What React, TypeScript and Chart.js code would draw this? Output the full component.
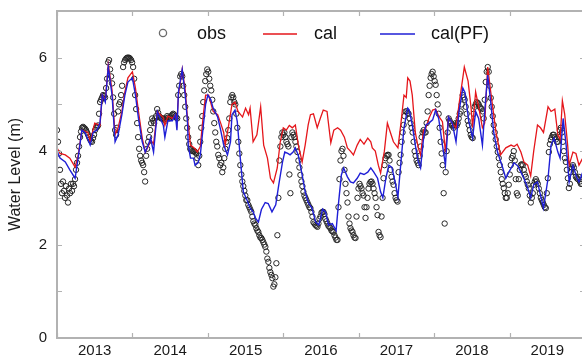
import React, { useEffect, useRef } from 'react';
import { Chart, registerables } from 'chart.js';

Chart.register(...registerables);

const FONT = '"Liberation Sans", Arial, sans-serif';

const yearLabels = ['2013', '2014', '2015', '2016', '2017', '2018', '2019'];
const yearBoundaries = [2013, 2014, 2015, 2016, 2017, 2018, 2019, 2020];
const yLabelTicks = [0, 2, 4, 6];
const yTickMarks = [1, 2, 3, 4, 5, 6];
const seriesNames = ['obs', 'cal', 'cal(PF)'];

// observed water level, sampled every ~4.85 days starting 2013-01-01
const obsStartYear = 2013.0;
const obsStepYears = 0.01328;
const obsValues = [
  4.45, 4.2, 3.95, 3.6, 3.3, 3.1, 3.35, 3.15, 3.0, 3.25,
  3.05, 2.9, 3.2, 3.1, 3.3, 3.15, 3.3, 3.25, 3.4, 3.6,
  3.75, 3.9, 4.1, 4.3, 4.42, 4.5, 4.52, 4.5, 4.48, 4.45,
  4.4, 4.35, 4.3, 4.25, 4.22, 4.2, 4.28, 4.35, 4.45, 4.5,
  4.52, 4.55, 4.8, 5.05, 5.1, 5.15, 5.2, 5.18, 5.15, 5.35,
  5.55, 5.9, 5.95, 5.75, 5.6, 5.45, 5.15, 4.8, 4.45, 4.35,
  4.5, 4.85, 5.0, 5.05, 5.2, 5.4, 5.8, 5.9, 5.95, 5.98,
  6.0, 6.0, 6.0, 5.98, 5.95, 5.9, 5.8, 5.55, 5.2, 4.9,
  4.6, 4.3, 4.05, 3.9, 3.8, 3.75, 3.7, 3.55, 3.35, 3.9,
  4.05, 4.2, 4.3, 4.45, 4.6, 4.7, 4.65, 4.6, 4.7, 4.75,
  4.9, 4.82, 4.75, 4.72, 4.7, 4.7, 4.7, 4.68, 4.65, 4.7,
  4.75, 4.72, 4.7, 4.72, 4.75, 4.78, 4.8, 4.78, 4.75, 4.72,
  4.7, 5.2, 5.4, 5.6, 5.65, 5.6, 5.4, 5.2, 4.95, 4.7,
  4.5, 4.3, 4.15, 4.05, 4.02, 4.0, 4.0, 4.0, 3.98, 3.95,
  3.85, 3.7, 3.9, 4.2, 4.5, 4.75, 5.05, 5.3, 5.5, 5.65,
  5.75, 5.7, 5.55, 5.4, 5.3, 5.1, 4.85, 4.6, 4.4, 4.2,
  4.1, 3.92, 3.85, 3.7, 3.75, 3.55, 3.65, 3.85, 4.05, 4.2,
  4.28, 4.45, 4.7, 5.05, 5.15, 5.2, 5.15, 5.05, 5.0, 4.8,
  4.5, 4.2, 3.95, 3.7, 3.5, 3.35, 3.25, 3.15, 3.05, 2.95,
  2.95, 2.85, 2.8, 2.75, 2.7, 2.6, 2.5, 2.45, 2.42, 2.35,
  2.3, 2.27, 2.2, 2.15, 2.14, 2.1, 2.05, 2.0, 1.95, 1.85,
  1.7, 1.63, 1.5, 1.41, 1.35, 1.28, 1.1, 1.15, 1.3, 1.6,
  2.2, 3.0, 3.8, 4.1, 4.3, 4.4, 4.35, 4.4, 4.3, 4.2,
  4.15, 4.1, 3.5, 3.1, 4.3, 4.4, 4.35, 4.3, 4.2, 4.1,
  3.98, 3.8, 3.65, 3.49, 3.35, 3.25, 3.13, 3.05, 3.0, 2.95,
  2.9, 2.85, 2.8, 2.78, 2.7, 2.6, 2.48, 2.45, 2.42, 2.4,
  2.38, 2.45, 2.55, 2.6, 2.68, 2.7, 2.7, 2.65, 2.55, 2.5,
  2.45, 2.4, 2.38, 2.35, 2.3, 2.28, 2.27, 2.2, 2.15, 2.1,
  2.1, 2.8, 3.4, 3.8, 4.0, 4.05, 3.9, 3.6, 3.3, 3.1,
  2.9, 2.6, 2.45, 2.35, 2.3, 2.27, 2.2, 2.15, 2.14, 2.6,
  3.0, 3.2, 3.3, 3.25, 3.2, 3.1, 3.05, 2.8, 2.57, 2.8,
  3.0, 3.2, 3.3, 3.34, 3.35, 3.3, 3.2, 3.1, 3.0, 2.8,
  2.63, 2.27, 2.2, 2.16, 2.6, 3.0, 3.42, 3.7, 3.85, 3.9,
  3.92, 3.92, 3.8, 3.6, 3.45, 3.35, 3.28, 3.1, 3.0, 2.95,
  2.92, 3.55, 3.75, 3.92, 4.2, 4.4, 4.56, 4.75, 4.85, 4.85,
  4.82, 4.8, 4.7, 4.6, 4.5, 4.4, 4.2, 4.0, 3.9, 3.8,
  3.75, 3.7, 3.9, 4.1, 4.3, 4.4, 4.45, 4.4, 4.4, 4.6,
  4.85, 5.2, 5.4, 5.57, 5.65, 5.7, 5.6, 5.5, 5.42, 5.2,
  5.0, 4.8, 4.5, 4.2, 3.95, 3.7, 3.1, 2.45, 3.55, 4.0,
  4.4, 4.7, 4.65, 4.6, 4.55, 4.55, 4.5, 4.55, 4.6, 4.55,
  4.6, 4.7, 4.8, 4.85, 5.0, 5.2, 5.15, 5.1, 4.95, 4.8,
  4.65, 4.56, 4.45, 4.35, 4.3, 4.28, 4.8, 4.95, 5.0, 5.05,
  5.03, 5.0, 4.95, 4.92, 4.9, 4.85, 4.7, 5.1, 5.48, 5.7,
  5.8, 5.7, 5.4, 5.14, 4.95, 4.75, 4.56, 4.4, 4.25, 4.1,
  3.98, 3.85, 3.7, 3.55, 3.4, 3.3, 3.21, 3.1, 3.0, 3.0,
  3.1, 3.28, 3.5, 3.7, 3.85, 3.9, 4.0, 3.8, 3.4, 3.1,
  3.05, 3.4, 3.6, 3.7, 3.72, 3.7, 3.6, 3.5, 3.45, 3.35,
  3.28, 3.2, 3.05, 2.9, 3.0, 3.1, 3.28, 3.35, 3.4, 3.35,
  3.3, 3.2, 3.1, 3.0, 2.95, 2.9, 2.85, 2.8, 2.78, 3.1,
  3.42, 3.98, 4.15, 4.24, 4.3, 4.35, 4.35, 4.3, 4.25, 4.2,
  4.2, 4.3, 4.45, 4.5, 4.4, 4.2, 4.0, 3.85, 3.77, 3.6,
  3.42, 3.21, 3.3, 3.55, 3.65, 3.7, 3.65, 3.55, 3.45, 3.42,
  3.4, 3.45, 3.35, 3.3, 3.3,
];

// [decimal year, water level]
const calSeries: [number, number][] = [
  [2013.00, 4.07], [2013.04, 3.95], [2013.11, 3.92], [2013.17, 3.85], [2013.24, 3.66], [2013.28, 3.9],
  [2013.33, 4.45], [2013.41, 4.4], [2013.44, 4.2], [2013.50, 4.6], [2013.57, 4.55], [2013.60, 5.2],
  [2013.64, 5.1], [2013.68, 5.85], [2013.73, 5.3], [2013.77, 4.35], [2013.81, 4.5], [2013.86, 4.85],
  [2013.90, 5.27], [2013.94, 5.57], [2014.00, 5.7], [2014.04, 5.35], [2014.08, 4.85], [2014.13, 4.28],
  [2014.17, 3.98], [2014.21, 4.1], [2014.24, 4.25], [2014.28, 4.15], [2014.33, 4.85], [2014.41, 4.72],
  [2014.43, 4.55], [2014.47, 4.75], [2014.53, 4.7], [2014.57, 4.78], [2014.59, 4.6], [2014.61, 5.2],
  [2014.66, 5.75], [2014.70, 5.3], [2014.73, 4.7], [2014.77, 4.13], [2014.83, 4.05], [2014.86, 3.98],
  [2014.90, 4.1], [2014.94, 4.78], [2014.97, 5.2], [2015.01, 5.2], [2015.07, 4.85], [2015.13, 4.78],
  [2015.17, 4.6], [2015.21, 4.4], [2015.23, 4.13], [2015.27, 4.5], [2015.32, 5.0], [2015.36, 5.05],
  [2015.40, 4.85], [2015.46, 4.73], [2015.50, 4.92], [2015.54, 4.78], [2015.56, 4.92], [2015.60, 4.2],
  [2015.65, 4.35], [2015.70, 4.95], [2015.74, 4.13], [2015.79, 3.85], [2015.83, 3.42], [2015.87, 3.32],
  [2015.92, 3.64], [2015.96, 4.2], [2016.00, 4.5], [2016.04, 4.45], [2016.08, 4.55], [2016.12, 4.5],
  [2016.16, 4.56], [2016.20, 4.13], [2016.25, 3.77], [2016.29, 4.13], [2016.33, 4.56], [2016.36, 4.78],
  [2016.40, 4.8], [2016.45, 4.5], [2016.49, 4.7], [2016.53, 4.88], [2016.58, 4.85], [2016.63, 4.18],
  [2016.67, 4.45], [2016.72, 4.5], [2016.76, 4.45], [2016.81, 4.3], [2016.85, 4.07], [2016.89, 4.0],
  [2016.93, 3.92], [2016.98, 4.13], [2017.02, 4.25], [2017.07, 4.15], [2017.12, 4.28], [2017.16, 4.2],
  [2017.18, 4.07], [2017.22, 4.0], [2017.26, 3.7], [2017.29, 3.53], [2017.34, 4.0], [2017.38, 4.6],
  [2017.42, 4.4], [2017.46, 4.2], [2017.52, 4.07], [2017.56, 4.6], [2017.60, 5.2], [2017.63, 5.15],
  [2017.65, 5.57], [2017.68, 5.5], [2017.71, 5.2], [2017.75, 4.4], [2017.79, 4.07], [2017.82, 3.92],
  [2017.86, 4.45], [2017.89, 4.5], [2017.93, 4.7], [2017.98, 4.88], [2018.02, 4.9], [2018.06, 4.75],
  [2018.11, 4.63], [2018.15, 3.98], [2018.19, 4.73], [2018.24, 4.6], [2018.29, 4.5], [2018.33, 5.0],
  [2018.38, 5.57], [2018.40, 5.8], [2018.45, 5.5], [2018.49, 4.92], [2018.51, 4.5], [2018.55, 5.27],
  [2018.59, 4.95], [2018.64, 4.5], [2018.67, 4.6], [2018.71, 5.8], [2018.75, 5.27], [2018.82, 4.4],
  [2018.88, 3.92], [2018.95, 4.07], [2019.02, 4.13], [2019.06, 4.1], [2019.10, 4.15], [2019.15, 3.98],
  [2019.19, 3.77], [2019.24, 3.7], [2019.28, 3.47], [2019.32, 4.0], [2019.37, 4.56], [2019.41, 4.5],
  [2019.45, 4.4], [2019.51, 4.95], [2019.55, 4.85], [2019.60, 4.9], [2019.64, 4.35], [2019.67, 4.25],
  [2019.70, 5.08], [2019.73, 4.8], [2019.77, 4.13], [2019.79, 3.7], [2019.84, 3.98], [2019.88, 3.95],
  [2019.92, 3.7], [2019.97, 3.85],
];

const calPFSeries: [number, number][] = [
  [2013.00, 4.0], [2013.04, 3.85], [2013.11, 3.77], [2013.17, 3.6], [2013.24, 3.42], [2013.28, 3.85],
  [2013.33, 4.45], [2013.37, 4.4], [2013.41, 4.25], [2013.44, 4.13], [2013.48, 4.4], [2013.53, 4.45],
  [2013.57, 4.6], [2013.60, 5.2], [2013.64, 5.05], [2013.68, 5.8], [2013.73, 5.2], [2013.77, 4.2],
  [2013.81, 4.35], [2013.86, 4.78], [2013.90, 5.2], [2013.94, 5.48], [2014.00, 5.57], [2014.04, 5.2],
  [2014.08, 4.7], [2014.13, 4.2], [2014.17, 3.98], [2014.21, 4.13], [2014.24, 4.28], [2014.28, 3.98],
  [2014.33, 4.85], [2014.37, 4.7], [2014.41, 4.55], [2014.43, 4.3], [2014.47, 4.65], [2014.53, 4.65],
  [2014.57, 4.78], [2014.59, 4.45], [2014.61, 5.27], [2014.66, 5.75], [2014.70, 5.2], [2014.73, 4.63],
  [2014.74, 4.13], [2014.77, 3.85], [2014.81, 3.85], [2014.83, 3.7], [2014.87, 3.75], [2014.90, 3.92],
  [2014.94, 4.55], [2014.97, 5.0], [2015.00, 5.2], [2015.04, 5.1], [2015.07, 4.92], [2015.13, 4.73],
  [2015.17, 4.45], [2015.21, 4.13], [2015.26, 3.92], [2015.30, 4.2], [2015.32, 4.78], [2015.36, 4.88],
  [2015.39, 4.63], [2015.43, 3.85], [2015.47, 3.13], [2015.52, 2.95], [2015.56, 2.78], [2015.60, 2.7],
  [2015.63, 2.57], [2015.67, 2.48], [2015.71, 2.75], [2015.76, 2.9], [2015.80, 2.88], [2015.85, 2.7],
  [2015.90, 2.85], [2015.94, 3.28], [2015.99, 3.77], [2016.02, 3.98], [2016.06, 3.95], [2016.09, 3.92],
  [2016.13, 3.98], [2016.16, 4.07], [2016.20, 3.9], [2016.25, 3.49], [2016.29, 3.13], [2016.33, 2.9],
  [2016.38, 2.78], [2016.43, 2.48], [2016.47, 2.42], [2016.50, 2.6], [2016.52, 2.76], [2016.56, 2.7],
  [2016.60, 2.42], [2016.65, 2.45], [2016.70, 2.3], [2016.73, 2.85], [2016.77, 3.49], [2016.80, 3.64],
  [2016.85, 3.45], [2016.89, 3.34], [2016.93, 3.32], [2016.98, 3.42], [2017.02, 3.53], [2017.07, 3.5],
  [2017.12, 3.55], [2017.16, 3.64], [2017.20, 3.55], [2017.25, 3.42], [2017.29, 3.13], [2017.32, 3.0],
  [2017.36, 3.42], [2017.40, 3.7], [2017.44, 3.65], [2017.49, 3.28], [2017.52, 3.02], [2017.56, 3.77],
  [2017.60, 4.5], [2017.65, 4.92], [2017.67, 4.88], [2017.71, 4.56], [2017.75, 4.13], [2017.79, 3.77],
  [2017.82, 3.64], [2017.86, 4.28], [2017.89, 4.56], [2017.93, 4.6], [2017.98, 4.67], [2018.02, 4.88],
  [2018.06, 4.7], [2018.11, 4.13], [2018.15, 3.7], [2018.19, 4.73], [2018.24, 4.6], [2018.29, 4.2],
  [2018.33, 4.85], [2018.38, 5.35], [2018.41, 5.25], [2018.46, 4.63], [2018.51, 4.28], [2018.55, 4.85],
  [2018.59, 4.7], [2018.64, 4.13], [2018.68, 5.05], [2018.71, 5.63], [2018.75, 5.05], [2018.79, 4.4],
  [2018.84, 3.98], [2018.91, 3.64], [2018.95, 3.42], [2018.99, 3.55], [2019.06, 3.75], [2019.11, 3.68],
  [2019.15, 3.55], [2019.19, 3.42], [2019.24, 3.21], [2019.28, 3.0], [2019.32, 3.28], [2019.37, 3.34],
  [2019.41, 3.06], [2019.45, 2.78], [2019.51, 3.42], [2019.55, 4.13], [2019.59, 4.28], [2019.64, 3.98],
  [2019.67, 3.85], [2019.71, 4.7], [2019.75, 4.13], [2019.79, 3.34], [2019.84, 3.7], [2019.88, 3.49],
  [2019.92, 3.34], [2019.97, 3.55],
];

const RED = '#e5161b';
const BLUE = '#1f1fd6';
const FRAME = '#b2b2b2';

const framePlugin = {
  id: 'frameTicks',
  afterDatasetsDraw(chart: any) {
    const { ctx, chartArea: a, scales } = chart;
    const x = scales.x;
    const y = scales.y;
    ctx.save();
    ctx.strokeStyle = FRAME;
    ctx.lineWidth = 2;
    ctx.strokeRect(a.left, a.top, a.right - a.left, a.bottom - a.top);
    ctx.lineWidth = 1.2;
    ctx.beginPath();
    for (const yr of yearBoundaries) {
      const px = Math.round(x.getPixelForValue(yr)) + 0.5;
      ctx.moveTo(px, a.bottom);
      ctx.lineTo(px, a.bottom - 5);
      ctx.moveTo(px, a.top);
      ctx.lineTo(px, a.top + 5);
    }
    for (const v of yTickMarks) {
      const py = Math.round(y.getPixelForValue(v)) + 0.5;
      ctx.moveTo(a.left, py);
      ctx.lineTo(a.left + 5, py);
      ctx.moveTo(a.right, py);
      ctx.lineTo(a.right - 5, py);
    }
    ctx.stroke();
    ctx.restore();
  },
};

const legendPlugin = {
  id: 'insideLegend',
  afterDraw(chart: any) {
    const { ctx, chartArea: a } = chart;
    const cy = a.top + 23;
    ctx.save();
    ctx.font = `18px ${FONT}`;
    ctx.fillStyle = '#111';
    ctx.textBaseline = 'middle';
    ctx.textAlign = 'left';
    // obs
    ctx.strokeStyle = '#6b6b6b';
    ctx.lineWidth = 1.3;
    ctx.beginPath();
    ctx.arc(a.left + 106, cy - 1, 3.6, 0, Math.PI * 2);
    ctx.stroke();
    ctx.fillText(seriesNames[0], a.left + 140, cy);
    // cal
    ctx.strokeStyle = RED;
    ctx.lineWidth = 1.3;
    ctx.beginPath();
    ctx.moveTo(a.left + 206, cy);
    ctx.lineTo(a.left + 240, cy);
    ctx.stroke();
    ctx.fillText(seriesNames[1], a.left + 257, cy);
    // cal(PF)
    ctx.strokeStyle = BLUE;
    ctx.beginPath();
    ctx.moveTo(a.left + 323, cy);
    ctx.lineTo(a.left + 358, cy);
    ctx.stroke();
    ctx.fillText(seriesNames[2], a.left + 374, cy);
    ctx.restore();
  },
};

export default function App() {
  const ref = useRef<HTMLCanvasElement | null>(null);

  useEffect(() => {
    const canvas = ref.current;
    if (!canvas) return;
    const obsData = obsValues.map((v, i) => ({ x: obsStartYear + i * obsStepYears, y: v }));
    const calData = calSeries.map(([t, v]) => ({ x: t, y: v }));
    const pfData = calPFSeries.map(([t, v]) => ({ x: t, y: v }));

    const chart = new Chart(canvas, {
      type: 'line',
      data: {
        datasets: [
          {
            label: seriesNames[2],
            data: pfData,
            borderColor: BLUE,
            borderWidth: 1.4,
            pointRadius: 0,
            tension: 0,
            fill: false,
            order: 1,
          },
          {
            label: seriesNames[1],
            data: calData,
            borderColor: RED,
            borderWidth: 1.3,
            pointRadius: 0,
            tension: 0,
            fill: false,
            order: 2,
          },
          {
            label: seriesNames[0],
            data: obsData,
            showLine: false,
            pointRadius: 2.7,
            pointBorderWidth: 1,
            pointBorderColor: '#262626',
            pointBackgroundColor: 'rgba(0,0,0,0)',
            order: 3,
          },
        ],
      },
      options: {
        responsive: false,
        animation: false,
        devicePixelRatio: 1,
        events: [],
        layout: { padding: { top: 11, right: 15, left: 0, bottom: 0 } },
        plugins: {
          legend: { display: false },
          tooltip: { enabled: false },
          title: { display: false },
        },
        scales: {
          x: {
            type: 'linear',
            min: 2013,
            max: 2020,
            grid: { display: false, drawTicks: false },
            border: { display: false },
            afterBuildTicks: (s: any) => {
              s.ticks = yearLabels.map((l) => ({ value: Number(l) + 0.5 }));
            },
            afterFit: (s: any) => {
              s.height = 20;
              s.paddingLeft = 0;
              s.paddingRight = 0;
            },
            ticks: {
              autoSkip: false,
              maxRotation: 0,
              minRotation: 0,
              padding: 4,
              color: '#1a1a1a',
              font: { family: FONT, size: 15 },
              callback: (v: any) => yearLabels[Math.floor(Number(v)) - 2013] ?? '',
            },
          },
          y: {
            type: 'linear',
            min: 0,
            max: 7,
            grid: { display: false, drawTicks: false },
            border: { display: false },
            afterBuildTicks: (s: any) => {
              s.ticks = yLabelTicks.map((v) => ({ value: v }));
            },
            afterFit: (s: any) => {
              s.width = 57;
              s.paddingTop = 0;
              s.paddingBottom = 0;
            },
            ticks: {
              padding: 10,
              color: '#1a1a1a',
              font: { family: FONT, size: 15 },
              callback: (v: any) => String(v),
            },
            title: {
              display: true,
              text: 'Water Level (m)',
              color: '#1a1a1a',
              font: { family: FONT, size: 16 },
              padding: { top: 6, bottom: 0 },
            },
          },
        },
      },
      plugins: [framePlugin, legendPlugin],
    });
    return () => chart.destroy();
  }, []);

  return (
    <div
      style={{
        position: 'fixed',
        left: 0,
        top: 0,
        width: 582,
        height: 358,
        overflow: 'hidden',
        background: '#ffffff',
      }}
    >
      <canvas ref={ref} width={600} height={358} style={{ width: 600, height: 358, display: 'block' }} />
    </div>
  );
}
